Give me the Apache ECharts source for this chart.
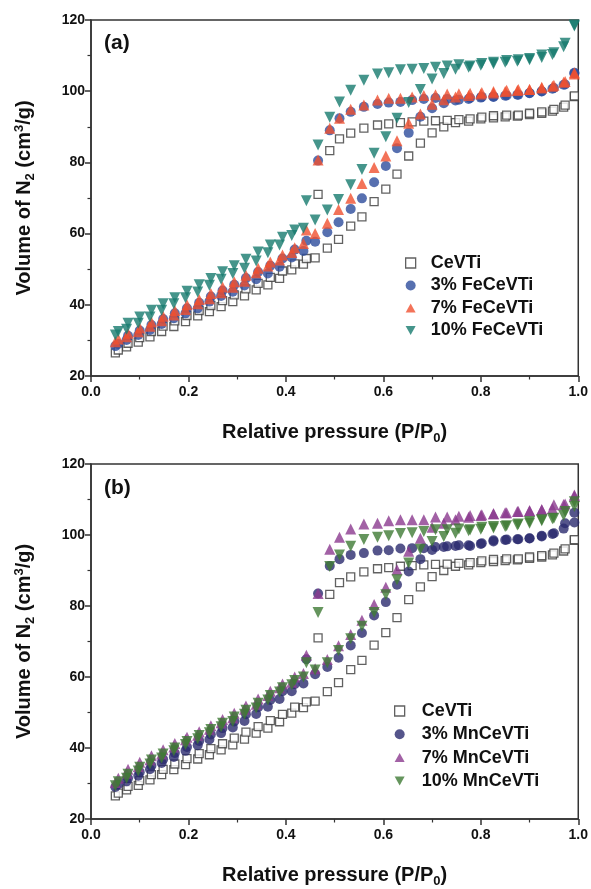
<!DOCTYPE html>
<html>
<head>
<meta charset="utf-8">
<script src="https://cdn.jsdelivr.net/npm/echarts@6/dist/echarts.min.js"></script>
<style>html,body{margin:0;padding:0;background:#fff}#c{width:591px;height:889px}</style>
</head>
<body>
<div id="c"></div>
<script>
// Relative pressure grids (adsorption and desorption branches)
const pAds = [0.05,0.073,0.097,0.121,0.145,0.17,0.194,0.219,0.243,0.267,
  0.291,0.315,0.339,0.363,0.387,0.412,0.436,0.46,0.485,0.508,
  0.533,0.556,0.581,0.605,0.628,0.652,0.676,0.70,0.724,0.748,
  0.775,0.80,0.826,0.85,0.875,0.90,0.925,0.947,0.97,0.992];
const pDes = [0.992,0.973,0.95,0.925,0.90,0.877,0.853,0.826,0.802,0.778,
  0.755,0.731,0.707,0.683,0.659,0.635,0.611,0.588,0.56,0.533,
  0.51,0.49,0.466,0.442,0.418,0.393,0.368,0.343,0.318,0.294,
  0.27,0.246,0.222,0.197,0.172,0.148,0.124,0.1,0.076,0.056];

// CeVTi
const ceAds = [26.5,28.2,29.5,31,32.5,33.9,35.3,36.9,38.1,39.5,
  40.9,42.5,44.2,45.6,47.4,49.8,51.4,53.2,55.9,58.4,
  62.1,64.7,69,72.5,76.7,81.8,85.4,88.3,90,91.2,
  91.6,92.2,92.5,92.8,93,93.4,93.8,94.4,95.5,98.5];
const ceDes = [98.7,96.1,94.9,94.2,93.8,93.3,93.3,93.1,92.7,92.2,
  92,91.8,91.7,91.6,91.4,91.2,90.8,90.5,89.6,88.2,
  86.6,83.3,71,53,51.5,49.5,47.7,46,44.5,42.8,
  41.2,39.8,38.4,37,35.5,34,32.5,30.8,29.2,27.3];
// 3% FeCeVTi
const fe3Ads = [28.4,30.1,31.5,32.9,34.6,36.2,37.6,39,40.9,42.5,
  43.7,45.4,47.2,48.8,50.7,53.3,55.1,57.7,60.4,63.2,
  66.9,69.9,74.4,79,84,88.3,92.8,95.2,96.6,97.4,
  97.8,98.2,98.4,98.7,99,99.4,99.9,100.7,101.8,105];
const fe3Des = [105.2,101.9,100.9,100,99.5,99,98.8,98.5,98.4,98.1,
  97.6,97.8,98.1,97.8,97.5,97,96.8,96.4,95.6,94.2,
  92.4,89,80.5,58,55.5,53,51,49.2,47.5,45.6,
  44,42.3,40.6,39,37.6,36,34.3,32.8,31.3,29];
// 7% FeCeVTi
const fe7Ads = [29.6,31,32.4,34,35.5,37.1,38.7,40.3,41.7,43.4,
  44.9,46.6,49,50.9,52.6,54.7,57.2,60,62.9,66.8,
  69.9,74.1,78.6,81.8,86.1,91,93.6,96.3,97.6,98.4,
  98.8,99.2,99.5,99.9,100.2,100.5,100.9,101.4,102.5,104.8];
const fe7Des = [105.2,102.7,101.7,101.1,100.5,100.5,100.3,99.9,99.6,99.4,
  99.3,99.2,99,98.8,98.4,98,98,97.5,96.1,94.9,
  92.4,89.6,80.7,61,56,54,52,50.3,48.3,46.5,
  45,43.2,41.5,40,38.4,36.8,35.2,33.5,32,30.4];
// 10% FeCeVTi
const fe10Ads = [31.5,33.1,34.8,36.6,38.5,40.3,42,43.6,45.5,47.2,
  48.8,50.3,52.3,54.6,56.8,59.5,61.5,63.8,66.6,69.6,
  73.7,78,82.6,87.2,92.4,96.8,100.5,103.4,105,106.2,
  106.7,107.3,107.7,108.1,108.4,108.8,109.5,110.3,112.5,118.3];
const fe10Des = [118.6,113.5,110.8,110.2,109.2,108.8,108.6,108.1,107.8,107.1,
  107.4,107.1,106.7,106.4,106.2,106,105.2,104.8,103.1,100.3,
  97,92.7,84.9,69.2,61,59,56.8,54.8,52.8,51,
  49.3,47.4,45.6,43.8,42,40.3,38.5,36.6,34.8,32.5];
// 3% MnCeVTi
const mn3Ads = [29,30.6,32.2,34,35.8,37.5,39.2,40.8,42.4,44.2,
  45.8,47.6,49.6,51.6,53.8,56,58.2,60.8,62.8,65.4,
  68.9,72.4,77.3,81.1,86,89.7,93.2,95.8,96.6,96.9,
  97.1,97.5,98.2,98.6,98.8,99,99.6,100.3,101.8,103.5];
const mn3Des = [106.3,103.3,100.5,99.8,99.1,98.8,98.7,98.5,97.7,96.9,
  97.1,96.8,96.6,96.3,96.3,96.2,95.7,95.6,94.9,94.4,
  93.2,91.3,83.5,65,58,56,53.5,51.5,49.5,47.5,
  45.6,43.8,42,40.3,38.6,36.8,35,33.2,31.5,29.8];
// 7% MnCeVTi
const mn7Ads = [30.3,32.9,34.8,36.7,38.3,40.3,42.3,43.6,45.3,47.1,
  48.5,50.9,52.3,54.8,57,58.5,61,62.3,64.9,68.8,
  72,76,80.4,85.3,90.2,95.4,99.1,102.2,103.3,104.3,
  105,105.5,106,106.3,106.6,106.8,107.1,107.5,108.6,111];
const mn7Des = [111.3,108.7,108.5,107.1,106.8,106.6,106.3,106,105.7,105.5,
  105.3,105.1,105.1,104.3,104.3,104.3,104,103.3,103.1,101.7,
  99.4,96,83.5,66.1,60,58,56,53.8,51.8,49.8,
  48,46.3,44.6,43,41.3,39.5,37.8,36,34,31.5];
// 10% MnCeVTi
const mn10Ads = [29.4,31.5,33.5,35.5,37.2,39.2,41,42.6,44.3,46,
  47.5,49.5,51.3,53.5,55.8,57.8,60,62,64,67.5,
  70.8,74.3,78.2,83.2,87.4,92.1,96,98.2,99.6,100.5,
  101.2,101.6,102,102.4,102.8,103.3,104,104.6,105.5,108];
const mn10Des = [109.4,106.6,104.7,104.3,103.8,103.1,102.6,102.4,102.2,101.5,
  101.7,101.5,101.5,101,100.6,100.4,99.8,99.4,98.7,96.8,
  94.4,91.1,78.2,64,59,57,54.8,52.6,50.6,48.7,
  47,45.2,43.5,41.8,40,38.3,36.6,34.6,32.6,30.5];

const namesA = ['CeVTi','3% FeCeVTi','7% FeCeVTi','10% FeCeVTi'];
const namesB = ['CeVTi','3% MnCeVTi','7% MnCeVTi','10% MnCeVTi'];
const xTicks = {min:0, max:1, interval:0.2};
const yTicks = {min:20, max:120, interval:20};

function pairs(ads, des){
  return pAds.map((p,i)=>[p, ads[i]]).concat(pDes.map((p,i)=>[p, des[i]]));
}

const FONT = 'Liberation Sans, Arial, sans-serif';
const AX = '#333';

function xAxisFor(i){
  return {
    gridIndex:i, type:'value', min:xTicks.min, max:xTicks.max, interval:xTicks.interval,
    axisLine:{onZero:false, lineStyle:{color:AX, width:1.5}},
    axisTick:{length:6, lineStyle:{color:AX, width:1.5}},
    minorTick:{show:true, splitNumber:2, length:3.5, lineStyle:{color:AX, width:1.2}},
    splitLine:{show:false},
    axisLabel:{formatter:v=>v.toFixed(1), color:'#111', fontSize:14, fontWeight:'bold', fontFamily:FONT, margin:9},
    name:'{b|Relative pressure (P/P}{s|0}{b|)}',
    nameLocation:'middle', nameGap:44,
    nameTextStyle:{rich:{
      b:{fontSize:20, fontWeight:'bold', fontFamily:FONT, color:'#111'},
      s:{fontSize:13, fontWeight:'bold', fontFamily:FONT, color:'#111', padding:[12,0,0,0]}
    }}
  };
}
function yAxisFor(i){
  return {
    gridIndex:i, type:'value', min:yTicks.min, max:yTicks.max, interval:yTicks.interval,
    axisLine:{onZero:false, lineStyle:{color:AX, width:1.5}},
    axisTick:{length:6, lineStyle:{color:AX, width:1.5}},
    minorTick:{show:true, splitNumber:2, length:3.5, lineStyle:{color:AX, width:1.2}},
    splitLine:{show:false},
    axisLabel:{color:'#111', fontSize:14, fontWeight:'bold', fontFamily:FONT, margin:6},
    name:'{b|Volume of N}{s|2}{b| (cm}{p|3}{b|/g)}',
    nameLocation:'middle', nameGap:54, nameRotate:90,
    nameTextStyle:{rich:{
      b:{fontSize:20, fontWeight:'bold', fontFamily:FONT, color:'#111'},
      s:{fontSize:13, fontWeight:'bold', fontFamily:FONT, color:'#111', padding:[12,0,0,0]},
      p:{fontSize:13, fontWeight:'bold', fontFamily:FONT, color:'#111', padding:[0,0,10,0]}
    }}
  };
}

function sq(name, gi, data){
  return {name, type:'scatter', xAxisIndex:gi, yAxisIndex:gi, data, symbol:'rect', symbolSize:8,
    itemStyle:{color:'#fff', borderColor:'#3a3a3a', borderWidth:1.3}};
}
function mk(name, gi, data, symbol, color, size, rot){
  return {name, type:'scatter', xAxisIndex:gi, yAxisIndex:gi, data, symbol, symbolSize:size,
    symbolRotate:rot||0, itemStyle:{color}};
}

const colors = {fe3:'#2d4c9c', fe7:'#f0502f', fe10:'#177a6e', mn3:'#2b2b6e', mn7:'#8b3a8f', mn10:'#3f7a35'};

const series = [
  sq(namesA[0], 0, pairs(ceAds, ceDes)),
  mk(namesA[1], 0, pairs(fe3Ads, fe3Des), 'circle', colors.fe3, 10),
  mk(namesA[2], 0, pairs(fe7Ads, fe7Des), 'triangle', colors.fe7, 11),
  mk(namesA[3], 0, pairs(fe10Ads, fe10Des), 'triangle', colors.fe10, 11, 180),
  sq(namesB[0], 1, pairs(ceAds, ceDes)),
  mk(namesB[1], 1, pairs(mn3Ads, mn3Des), 'circle', colors.mn3, 10),
  mk(namesB[2], 1, pairs(mn7Ads, mn7Des), 'triangle', colors.mn7, 11),
  mk(namesB[3], 1, pairs(mn10Ads, mn10Des), 'triangle', colors.mn10, 11, 180)
];

const downTri = 'path://M0,0 L10,0 L5,9 Z';
const upTri = 'path://M5,0 L10,9 L0,9 Z';
function legendData(names){
  return [
    {name:names[0], icon:'rect', itemStyle:{color:'#fff', borderColor:'#3a3a3a', borderWidth:1.3}},
    {name:names[1], icon:'circle'},
    {name:names[2], icon:upTri},
    {name:names[3], icon:downTri}
  ];
}
const legendText = {fontSize:18, fontWeight:'bold', fontFamily:FONT, color:'#111', lineHeight:18};
const option = {
  animation:false,
  backgroundColor:'#fff',
  grid:[
    {left:91, top:20, width:489, height:356, show:true, borderColor:AX, borderWidth:1.5, backgroundColor:'transparent'},
    {left:91, top:464, width:489, height:356, show:true, borderColor:AX, borderWidth:1.5, backgroundColor:'transparent'}
  ],
  xAxis:[xAxisFor(0), xAxisFor(1)],
  yAxis:[yAxisFor(0), yAxisFor(1)],
  legend:[
    {data:legendData(namesA), orient:'vertical', left:400, top:249, itemWidth:10, itemHeight:10, itemGap:4.5,
     textStyle:Object.assign({padding:[0,0,0,10]}, legendText), selectedMode:false},
    {data:legendData(namesB), orient:'vertical', left:389, top:697, itemWidth:10, itemHeight:10, itemGap:5.3,
     textStyle:Object.assign({padding:[0,0,0,12]}, legendText), selectedMode:false}
  ],
  graphic:[
    {type:'text', left:104, top:33, style:{text:'(a)', font:'bold 21px '+FONT, fill:'#111'}},
    {type:'text', left:104, top:478, style:{text:'(b)', font:'bold 21px '+FONT, fill:'#111'}}
  ],
  series
};
const chart = echarts.init(document.getElementById('c'), null, {renderer:'canvas'});
chart.setOption(option);
</script>
</body>
</html>
